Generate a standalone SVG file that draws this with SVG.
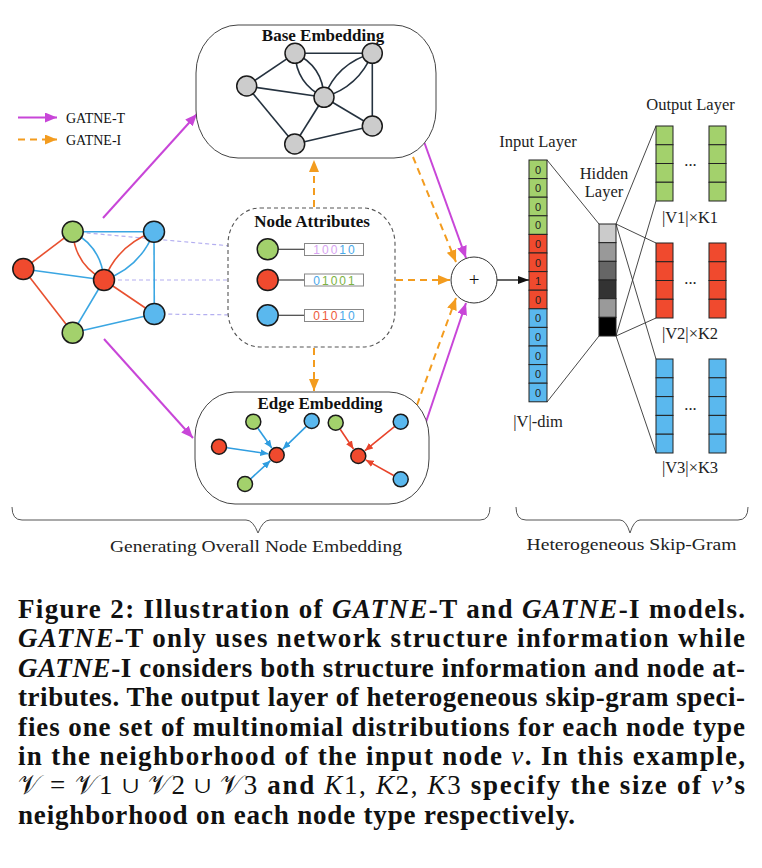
<svg xmlns="http://www.w3.org/2000/svg" width="762" height="868" viewBox="0 0 762 868">
<defs>
<marker id="mMag" markerUnits="userSpaceOnUse" markerWidth="12" markerHeight="10" refX="12" refY="5" orient="auto"><path d="M0,0 L12,5 L0,10 z" fill="#c846d8"/></marker>
<marker id="mOra" markerUnits="userSpaceOnUse" markerWidth="12" markerHeight="10" refX="12" refY="5" orient="auto"><path d="M0,0 L12,5 L0,10 z" fill="#f39c1f"/></marker>
<marker id="mBlk" markerUnits="userSpaceOnUse" markerWidth="11" markerHeight="8" refX="11" refY="4" orient="auto"><path d="M0,0 L11,4 L0,8 z" fill="#111"/></marker>
<marker id="mBlue" markerUnits="userSpaceOnUse" markerWidth="8" markerHeight="7" refX="8" refY="3.5" orient="auto"><path d="M0,0 L8,3.5 L0,7 z" fill="#2f9de0"/></marker>
<marker id="mRed" markerUnits="userSpaceOnUse" markerWidth="8" markerHeight="7" refX="8" refY="3.5" orient="auto"><path d="M0,0 L8,3.5 L0,7 z" fill="#e8432a"/></marker>
</defs>
<style>
.serif{font-family:"Liberation Serif","Times New Roman",serif;fill:#111}
.title{font-family:"Liberation Serif","Times New Roman",serif;font-weight:bold;font-size:17px;fill:#111;text-anchor:middle}
.lbl{font-family:"Liberation Serif","Times New Roman",serif;font-size:16.5px;fill:#222;text-anchor:middle}
.cell{font-family:"Liberation Sans",Arial,sans-serif;font-size:11px;fill:#222;text-anchor:middle}
.bits{font-family:"Liberation Sans",Arial,sans-serif;font-size:12px;letter-spacing:2px;text-anchor:middle}
.g{fill:#a3d16c;stroke:#1a1a1a;stroke-width:1.5}
.r{fill:#f04a2e;stroke:#1a1a1a;stroke-width:1.5}
.b{fill:#5ab8ee;stroke:#1a1a1a;stroke-width:1.5}
.gr{fill:#cccccc;stroke:#1a1a1a;stroke-width:1.5}
.eR{stroke:#e8502f;stroke-width:1.6;fill:none}
.eB{stroke:#3aa6e2;stroke-width:1.6;fill:none}
.eK{stroke:#25323f;stroke-width:1.6;fill:none}
.lav{stroke:#b3aef0;stroke-width:1.2;stroke-dasharray:4,3;fill:none}
.mag{stroke:#c846d8;stroke-width:2;fill:none;marker-end:url(#mMag)}
.ora{stroke:#f39c1f;stroke-width:2;stroke-dasharray:7,5;fill:none;marker-end:url(#mOra)}
.thin{stroke:#333;stroke-width:0.9;fill:none}
.cap{font-family:"Liberation Serif","Times New Roman",serif;font-weight:bold;font-size:27px;fill:#111}
.it{font-style:italic}
.math{font-weight:normal}
.oc{stroke:#222;stroke-width:1}
</style>

<!-- legend -->
<g id="legend">
<line x1="18" y1="117.5" x2="57" y2="117.5" class="mag"/>
<text x="66" y="122.5" class="serif" font-size="14">GATNE-T</text>
<line x1="18" y1="139.5" x2="57" y2="139.5" class="ora" stroke-dasharray="5,4"/>
<text x="66" y="144.5" class="serif" font-size="14">GATNE-I</text>
</g>

<!-- connectors -->
<g id="connectors">
<line x1="72.7" y1="231.7" x2="267.7" y2="249.3" class="lav"/>
<line x1="104" y1="280" x2="267.7" y2="280" class="lav"/>
<line x1="154.3" y1="314" x2="267.7" y2="315.3" class="lav"/>
<line x1="103" y1="218" x2="197" y2="114" class="mag"/>
<line x1="104" y1="339" x2="193" y2="438" class="mag"/>
<line x1="424.5" y1="143" x2="466" y2="258" class="mag"/>
<line x1="426" y1="422" x2="466" y2="303" class="mag"/>
<line x1="314" y1="207" x2="314" y2="160" class="ora"/>
<line x1="314" y1="348" x2="314" y2="391" class="ora"/>
<line x1="396" y1="280" x2="450" y2="280" class="ora"/>
<line x1="413" y1="157" x2="456" y2="262" class="ora"/>
<line x1="417" y1="405" x2="456" y2="298" class="ora"/>
<line x1="497" y1="280" x2="529" y2="280" stroke="#111" stroke-width="1.3" marker-end="url(#mBlk)"/>
<line x1="547" y1="160" x2="599" y2="224" class="thin"/>
<line x1="547" y1="402" x2="599" y2="336" class="thin"/>
<line x1="616" y1="224" x2="656" y2="126" class="thin"/>
<line x1="616" y1="336" x2="656" y2="201" class="thin"/>
<line x1="616" y1="224" x2="656" y2="243" class="thin"/>
<line x1="616" y1="336" x2="656" y2="318" class="thin"/>
<line x1="616" y1="224" x2="656" y2="359" class="thin"/>
<line x1="616" y1="336" x2="656" y2="453" class="thin"/>
</g>

<!-- input graph -->
<g id="input-graph">
<line x1="23.3" y1="269" x2="72.7" y2="231.7" class="eR"/>
<line x1="23.3" y1="269" x2="72.7" y2="332.7" class="eR"/>
<line x1="23.3" y1="269" x2="104" y2="280" class="eB"/>
<line x1="72.7" y1="231.7" x2="154" y2="231.7" class="eB"/>
<path d="M72.7,231.7 Q74.9,264.7 104,280" class="eR"/>
<path d="M72.7,231.7 Q101.7,247.3 104,280" class="eB"/>
<path d="M154,231.7 Q117.9,244.5 104,280" class="eR"/>
<path d="M154,231.7 Q140.1,267.5 104,280" class="eB"/>
<line x1="154" y1="231.7" x2="154.3" y2="314" class="eB"/>
<line x1="104" y1="280" x2="154.3" y2="314" class="eR"/>
<line x1="104" y1="280" x2="72.7" y2="332.7" class="eB"/>
<line x1="72.7" y1="332.7" x2="154.3" y2="314" class="eB"/>
<circle cx="72.7" cy="231.7" r="10.5" class="g"/>
<circle cx="154" cy="231.7" r="10.5" class="b"/>
<circle cx="23.3" cy="269" r="10.5" class="r"/>
<circle cx="104" cy="280" r="10.5" class="r"/>
<circle cx="154.3" cy="314" r="10.5" class="b"/>
<circle cx="72.7" cy="332.7" r="10.5" class="g"/>
</g>

<!-- base embedding -->
<g id="base-embedding">
<rect x="196" y="25" width="240" height="133" rx="42" ry="48" fill="#fff" stroke="#444" stroke-width="1"/>
<text x="323" y="41" class="title">Base Embedding</text>
<line x1="295" y1="53.3" x2="372.3" y2="53.3" class="eK"/>
<line x1="246.7" y1="86" x2="295" y2="53.3" class="eK"/>
<line x1="246.7" y1="86" x2="324" y2="97.3" class="eK"/>
<line x1="246.7" y1="86" x2="294.7" y2="144" class="eK"/>
<path d="M295,53.3 Q296.1,83.8 324,97.3" class="eK"/>
<path d="M295,53.3 Q322.9,66.2 324,97.3" class="eK"/>
<path d="M372.3,53.3 Q337.2,63.2 324,97.3" class="eK"/>
<path d="M372.3,53.3 Q358.8,86.8 324,97.3" class="eK"/>
<line x1="372.3" y1="53.3" x2="372.3" y2="126" class="eK"/>
<line x1="324" y1="97.3" x2="372.3" y2="126" class="eK"/>
<line x1="324" y1="97.3" x2="294.7" y2="144" class="eK"/>
<line x1="294.7" y1="144" x2="372.3" y2="126" class="eK"/>
<circle cx="295" cy="53.3" r="10" class="gr"/>
<circle cx="372.3" cy="53.3" r="10" class="gr"/>
<circle cx="246.7" cy="86" r="10" class="gr"/>
<circle cx="324" cy="97.3" r="10" class="gr"/>
<circle cx="372.3" cy="126" r="10" class="gr"/>
<circle cx="294.7" cy="144" r="10" class="gr"/>
</g>

<!-- node attributes -->
<g id="node-attributes">
<rect x="228" y="208" width="167" height="139" rx="32" ry="36" fill="#fff" stroke="#555" stroke-width="1.1" stroke-dasharray="4,3"/>
<text x="312" y="227" class="title">Node Attributes</text>
<line x1="277" y1="249.3" x2="304.5" y2="249.3" stroke="#444" stroke-width="1.2"/>
<line x1="277" y1="280" x2="304.5" y2="280" stroke="#444" stroke-width="1.2"/>
<line x1="277" y1="315.3" x2="304.5" y2="315.3" stroke="#444" stroke-width="1.2"/>
<circle cx="267.7" cy="249.3" r="10.5" class="g"/>
<circle cx="267.7" cy="280" r="10.5" class="r"/>
<circle cx="267.7" cy="315.3" r="10.5" class="b"/>
<rect x="304.5" y="243.5" width="59" height="12" fill="#fff" stroke="#888" stroke-width="1"/>
<rect x="304.5" y="274" width="59" height="12" fill="#fff" stroke="#888" stroke-width="1"/>
<rect x="304.5" y="309.5" width="59" height="12" fill="#fff" stroke="#888" stroke-width="1"/>
<text x="335" y="254" class="bits"><tspan fill="#d8a4f2">100</tspan><tspan fill="#4aa8ea">10</tspan></text>
<text x="335" y="284.5" class="bits"><tspan fill="#4aa8ea">0</tspan><tspan fill="#7cb342">1001</tspan></text>
<text x="335" y="320" class="bits"><tspan fill="#ee5a3a">010</tspan><tspan fill="#4aa8ea">10</tspan></text>
</g>

<!-- edge embedding -->
<g id="edge-embedding">
<rect x="195" y="392" width="234" height="112" rx="40" ry="45" fill="#fff" stroke="#444" stroke-width="1"/>
<text x="320" y="409" class="title">Edge Embedding</text>
<line x1="257.9" y1="428.2" x2="271.8" y2="448" stroke="#2f9de0" stroke-width="1.6" marker-end="url(#mBlue)"/>
<line x1="306" y1="426.6" x2="282.8" y2="449.1" stroke="#2f9de0" stroke-width="1.6" marker-end="url(#mBlue)"/>
<line x1="227" y1="447.8" x2="268.3" y2="453.8" stroke="#2f9de0" stroke-width="1.6" marker-end="url(#mBlue)"/>
<line x1="250.9" y1="478.6" x2="270.4" y2="460.7" stroke="#2f9de0" stroke-width="1.6" marker-end="url(#mBlue)"/>
<line x1="340.2" y1="429.3" x2="353.5" y2="449" stroke="#e8432a" stroke-width="1.6" marker-end="url(#mRed)"/>
<line x1="394.5" y1="426.7" x2="364.9" y2="450.7" stroke="#e8432a" stroke-width="1.6" marker-end="url(#mRed)"/>
<line x1="393.7" y1="475.5" x2="365.7" y2="459.9" stroke="#e8432a" stroke-width="1.6" marker-end="url(#mRed)"/>
<circle cx="253.3" cy="421.7" r="7.5" class="g"/>
<circle cx="311.7" cy="421" r="7.5" class="b"/>
<circle cx="219" cy="446.7" r="7.5" class="r"/>
<circle cx="276.7" cy="455" r="7.5" class="r"/>
<circle cx="245" cy="484" r="7.5" class="g"/>
<circle cx="335.7" cy="422.7" r="7.5" class="g"/>
<circle cx="400.7" cy="421.7" r="7.5" class="b"/>
<circle cx="358.3" cy="456" r="7.5" class="r"/>
<circle cx="400.7" cy="479.3" r="7.5" class="b"/>
</g>

<!-- sum -->
<g id="sum">
<circle cx="474" cy="280" r="23" fill="#fff" stroke="#333" stroke-width="1"/>
<text x="474" y="286" class="serif" font-size="19" text-anchor="middle">+</text>
</g>

<!-- input layer -->
<g id="input-layer">
<text x="538" y="147" class="lbl">Input Layer</text>
<g class="oc">
<rect x="529" y="160" width="18" height="18.6" fill="#a3d16c"/>
<rect x="529" y="178.6" width="18" height="18.6" fill="#a3d16c"/>
<rect x="529" y="197.2" width="18" height="18.6" fill="#a3d16c"/>
<rect x="529" y="215.8" width="18" height="18.6" fill="#a3d16c"/>
<rect x="529" y="234.4" width="18" height="18.6" fill="#f04a2e"/>
<rect x="529" y="253" width="18" height="18.6" fill="#f04a2e"/>
<rect x="529" y="271.6" width="18" height="18.6" fill="#f04a2e"/>
<rect x="529" y="290.2" width="18" height="18.6" fill="#f04a2e"/>
<rect x="529" y="308.8" width="18" height="18.6" fill="#5ab8ee"/>
<rect x="529" y="327.4" width="18" height="18.6" fill="#5ab8ee"/>
<rect x="529" y="346" width="18" height="18.6" fill="#5ab8ee"/>
<rect x="529" y="364.6" width="18" height="18.6" fill="#5ab8ee"/>
<rect x="529" y="383.2" width="18" height="18.6" fill="#5ab8ee"/>
</g>
<text x="538" y="173.5" class="cell">0</text>
<text x="538" y="192.1" class="cell">0</text>
<text x="538" y="210.7" class="cell">0</text>
<text x="538" y="229.3" class="cell">0</text>
<text x="538" y="247.9" class="cell">0</text>
<text x="538" y="266.5" class="cell">0</text>
<text x="538" y="285.1" class="cell">1</text>
<text x="538" y="303.7" class="cell">0</text>
<text x="538" y="322.3" class="cell">0</text>
<text x="538" y="340.9" class="cell">0</text>
<text x="538" y="359.5" class="cell">0</text>
<text x="538" y="378.1" class="cell">0</text>
<text x="538" y="396.7" class="cell">0</text>
<text x="538" y="427" class="lbl">|V|-dim</text>
</g>

<!-- hidden layer -->
<g id="hidden-layer">
<text x="604" y="179" class="lbl">Hidden</text>
<text x="604" y="197" class="lbl">Layer</text>
<g class="oc">
<rect x="599" y="224" width="17" height="18.67" fill="#cbcbcb"/>
<rect x="599" y="242.67" width="17" height="18.67" fill="#999999"/>
<rect x="599" y="261.33" width="17" height="18.67" fill="#666666"/>
<rect x="599" y="280" width="17" height="18.67" fill="#333333"/>
<rect x="599" y="298.67" width="17" height="18.67" fill="#9a9a9a"/>
<rect x="599" y="317.33" width="17" height="18.67" fill="#000000"/>
</g>
</g>

<!-- output layer -->
<g id="output-layer">
<text x="690.5" y="110" class="lbl">Output Layer</text>
<g class="oc" fill="#a3d16c">
<rect x="656" y="126" width="17" height="18.75"/><rect x="656" y="144.75" width="17" height="18.75"/><rect x="656" y="163.5" width="17" height="18.75"/><rect x="656" y="182.25" width="17" height="18.75"/>
<rect x="709" y="126" width="17" height="18.75"/><rect x="709" y="144.75" width="17" height="18.75"/><rect x="709" y="163.5" width="17" height="18.75"/><rect x="709" y="182.25" width="17" height="18.75"/>
</g>
<g class="oc" fill="#f04a2e">
<rect x="656" y="243" width="17" height="18.75"/><rect x="656" y="261.75" width="17" height="18.75"/><rect x="656" y="280.5" width="17" height="18.75"/><rect x="656" y="299.25" width="17" height="18.75"/>
<rect x="709" y="243" width="17" height="18.75"/><rect x="709" y="261.75" width="17" height="18.75"/><rect x="709" y="280.5" width="17" height="18.75"/><rect x="709" y="299.25" width="17" height="18.75"/>
</g>
<g class="oc" fill="#5ab8ee">
<rect x="656" y="359" width="17" height="18.8"/><rect x="656" y="377.8" width="17" height="18.8"/><rect x="656" y="396.6" width="17" height="18.8"/><rect x="656" y="415.4" width="17" height="18.8"/><rect x="656" y="434.2" width="17" height="18.8"/>
<rect x="709" y="359" width="17" height="18.8"/><rect x="709" y="377.8" width="17" height="18.8"/><rect x="709" y="396.6" width="17" height="18.8"/><rect x="709" y="415.4" width="17" height="18.8"/><rect x="709" y="434.2" width="17" height="18.8"/>
</g>
<text x="690.5" y="166" class="lbl" font-size="12">...</text>
<text x="690.5" y="284" class="lbl" font-size="12">...</text>
<text x="690.5" y="410" class="lbl" font-size="12">...</text>
<text x="690" y="223" class="lbl">|V1|×K1</text>
<text x="690" y="339" class="lbl">|V2|×K2</text>
<text x="690" y="473" class="lbl">|V3|×K3</text>
</g>

<!-- braces -->
<g id="braces">
<path d="M12,507 Q12,520 22,520 L246,520 Q253,520 258,533 Q263,520 270,520 L480,520 Q490,520 490,507" fill="none" stroke="#555" stroke-width="1"/>
<path d="M516,507 Q516,520 526,520 L620,520 Q626,520 630,533 Q634,520 640,520 L738,520 Q748,520 748,507" fill="none" stroke="#555" stroke-width="1"/>
<text x="256" y="552" class="lbl" font-size="20" textLength="292" lengthAdjust="spacingAndGlyphs">Generating Overall Node Embedding</text>
<text x="631.5" y="550" class="lbl" font-size="20" textLength="210" lengthAdjust="spacingAndGlyphs">Heterogeneous Skip-Gram</text>
</g>

<!-- caption -->
<g id="caption">
<text x="18" y="618" class="cap" textLength="727" lengthAdjust="spacing">Figure 2: Illustration of <tspan class="it">GATNE</tspan>-T and <tspan class="it">GATNE</tspan>-I models.</text>
<text x="18" y="647.4" class="cap" textLength="727" lengthAdjust="spacing"><tspan class="it">GATNE</tspan>-T only uses network structure information while</text>
<text x="18" y="676.8" class="cap" textLength="727" lengthAdjust="spacing"><tspan class="it">GATNE</tspan>-I considers both structure information and node at-</text>
<text x="18" y="706.2" class="cap" textLength="727" lengthAdjust="spacing">tributes. The output layer of heterogeneous skip-gram speci-</text>
<text x="18" y="735.6" class="cap" textLength="727" lengthAdjust="spacing">fies one set of multinomial distributions for each node type</text>
<text x="18" y="765" class="cap" textLength="727" lengthAdjust="spacing">in the neighborhood of the input node <tspan class="it math">v</tspan>. In this example,</text>
<text x="18" y="794.4" class="cap" textLength="727" lengthAdjust="spacing"><tspan class="math">𝒱 = 𝒱1 ∪ 𝒱2 ∪ 𝒱3</tspan> and <tspan class="math"><tspan class="it">K</tspan>1, <tspan class="it">K</tspan>2, <tspan class="it">K</tspan>3</tspan> specify the size of <tspan class="it math">v</tspan>’s</text>
<text x="18" y="823.8" class="cap" textLength="557" lengthAdjust="spacing">neighborhood on each node type respectively.</text>
</g>
</svg>
